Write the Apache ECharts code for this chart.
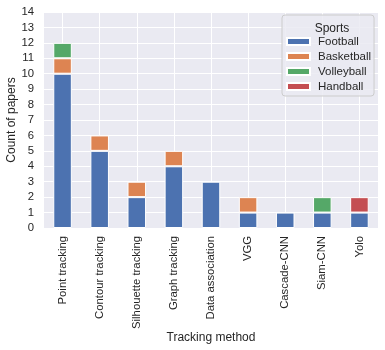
<!DOCTYPE html>
<html>
<head>
<meta charset="utf-8">
<script src="https://cdn.jsdelivr.net/npm/echarts@6/dist/echarts.min.js"></script>
<style>
  html, body { margin: 0; padding: 0; background: #fff; }
  #main { width: 385px; height: 350px; }
</style>
</head>
<body>
<div id="main"></div>
<script>
var chartDom = document.getElementById('main');
var myChart = echarts.init(chartDom);
var option;

const methods = ['Point tracking', 'Contour tracking', 'Silhouette tracking', 'Graph tracking',
  'Data association', 'VGG', 'Cascade-CNN', 'Siam-CNN', 'Yolo'];
const sports = ['Football', 'Basketball', 'Volleyball', 'Handball'];
const football = [10, 5, 2, 4, 3, 1, 1, 1, 1];
const basketball = [1, 1, 1, 1, 0, 1, 0, 0, 0];
const volleyball = [1, 0, 0, 0, 0, 0, 0, 1, 0];
const handball = [0, 0, 0, 0, 0, 0, 0, 0, 1];
const counts = [football, basketball, volleyball, handball];
const colors = ['#4C72B0', '#DD8452', '#55A868', '#C44E52'];

const font = 'Liberation Sans';
const ink = '#262626';

option = {
  animation: false,
  textStyle: { fontFamily: font },
  color: colors,
  grid: {
    left: 44, right: 7, top: 12, bottom: 122,
    outerBoundsMode: 'none',
    containLabel: false,
    backgroundColor: '#EAEAF2', show: true, borderWidth: 0
  },
  title: {
    text: 'Sports',
    left: 327,
    top: 18,
    textAlign: 'center',
    textStyle: { fontFamily: font, fontSize: 12, fontWeight: 'normal', color: ink }
  },
  legend: {
    orient: 'vertical',
    left: 282,
    top: 15,
    data: sports,
    itemWidth: 23,
    itemHeight: 7,
    itemGap: 2,
    icon: 'rect',
    padding: [20, 3, 3, 4],
    backgroundColor: 'rgba(234,234,242,0.85)',
    borderColor: '#cccccc',
    borderWidth: 1,
    borderRadius: 3,
    textStyle: { fontFamily: font, fontSize: 11.5, color: ink, lineHeight: 13, padding: [0, 0, 0, 3] }
  },
  xAxis: {
    type: 'category',
    data: methods,
    name: 'Tracking method',
    nameLocation: 'middle',
    nameGap: 104,
    nameMoveOverlap: false,
    nameTextStyle: { fontFamily: font, fontSize: 12, color: ink },
    axisLine: { show: false },
    axisTick: { show: false, alignWithLabel: true },
    splitLine: { show: true, alignWithLabel: true, lineStyle: { color: '#ffffff', width: 1 } },
    axisLabel: { rotate: 90, margin: 8, fontSize: 11.3, color: ink, interval: 0 }
  },
  yAxis: {
    type: 'value',
    min: 0,
    max: 14,
    interval: 1,
    name: 'Count of papers',
    nameLocation: 'middle',
    nameGap: 26,
    nameMoveOverlap: false,
    nameTextStyle: { fontFamily: font, fontSize: 12, color: ink },
    axisLine: { show: false },
    axisTick: { show: false },
    splitLine: { lineStyle: { color: '#ffffff', width: 1 } },
    axisLabel: { margin: 10, fontSize: 11.3, color: ink }
  },
  series: sports.map((name, i) => ({
    name: name,
    type: 'bar',
    stack: 'total',
    barWidth: '50%',
    itemStyle: { color: colors[i], borderColor: '#ffffff', borderWidth: 1 },
    data: counts[i].map(v => (v === 0 ? '-' : v))
  }))
};

option && myChart.setOption(option);

window.onresize = function() {
  myChart.resize();
};
</script>
</body>
</html>
